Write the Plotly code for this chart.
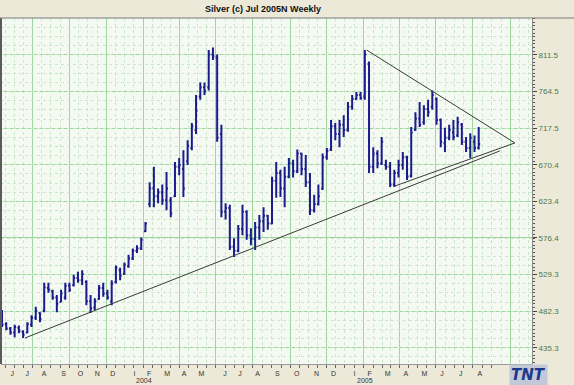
import pandas as pd
import plotly.graph_objects as go

# ---------------- data ----------------
week_dates = pd.date_range("2003-05-27", periods=114, freq="7D")

open_px = [480, 466, 460, 455, 461, 456, 455, 465, 474, 480,
           483, 512, 508, 500, 494, 500, 515, 516, 525, 522,
           520, 495, 487, 498, 512, 505, 495, 520, 535, 530,
           540, 550, 560, 563, 585, 620, 640, 630, 635, 625,
           625, 630, 668, 665, 675, 692, 715, 758, 770, 770,
           812, 808, 710, 610, 615, 565, 560, 588, 610, 580,
           575, 590, 598, 605, 595, 650, 660, 640, 655, 672,
           662, 685, 665, 648, 612, 620, 640, 680, 690, 720,
           710, 722, 715, 745, 755, 760, 758, 800, 668, 685,
           672, 670, 668, 645, 660, 670, 680, 656, 715, 730,
           725, 742, 745, 755, 728, 698, 705, 712, 708, 722,
           700, 692, 700, 692]
high_px = [484, 468, 462, 465, 464, 458, 468, 477, 488, 481,
           519, 519, 510, 503, 510, 519, 519, 529, 533, 535,
           522, 503, 499, 516, 519, 510, 522, 541, 538, 545,
           555, 563, 567, 577, 597, 648, 668, 640, 645, 661,
           629, 674, 679, 689, 702, 724, 760, 776, 776, 818,
           821, 812, 722, 621, 619, 576, 593, 619, 612, 589,
           597, 606, 616, 606, 655, 674, 664, 668, 679, 677,
           690, 686, 683, 660, 632, 645, 685, 692, 728, 724,
           728, 734, 751, 760, 764, 764, 818, 803, 693, 689,
           706, 677, 674, 664, 677, 687, 682, 719, 738, 751,
           747, 754, 766, 757, 730, 718, 722, 728, 732, 724,
           706, 711, 708, 719]
low_px = [462, 458, 452, 449, 454, 448, 454, 462, 471, 468,
          481, 506, 497, 481, 494, 497, 507, 514, 519, 516,
          490, 480, 484, 497, 501, 497, 490, 518, 522, 529,
          538, 548, 557, 561, 584, 616, 616, 621, 619, 612,
          603, 629, 657, 629, 670, 689, 710, 754, 760, 766,
          805, 700, 603, 600, 561, 552, 558, 580, 574, 567,
          561, 574, 584, 587, 594, 628, 629, 616, 653, 654,
          660, 657, 642, 606, 609, 618, 638, 677, 688, 702,
          693, 706, 713, 741, 754, 754, 754, 660, 660, 666,
          670, 664, 642, 642, 654, 664, 651, 654, 714, 719,
          722, 732, 741, 722, 693, 687, 702, 702, 706, 696,
          687, 679, 687, 690]
close_px = [465, 460, 455, 462, 457, 452, 466, 474, 483, 472,
            513, 510, 500, 492, 505, 515, 510, 525, 522, 530,
            495, 486, 495, 512, 505, 500, 518, 538, 528, 542,
            550, 560, 563, 574, 595, 640, 630, 635, 625, 640,
            608, 668, 670, 640, 695, 720, 740, 770, 765, 812,
            810, 705, 610, 615, 565, 560, 588, 610, 580, 575,
            590, 598, 605, 595, 650, 660, 640, 655, 672, 662,
            685, 665, 648, 612, 620, 630, 680, 688, 720, 710,
            722, 715, 745, 755, 760, 756, 812, 668, 685, 672,
            700, 668, 645, 660, 670, 680, 655, 712, 730, 722,
            742, 738, 760, 728, 700, 705, 715, 706, 725, 700,
            692, 705, 692, 697]

price_ticks = [435.3, 482.3, 529.3, 576.4, 623.4, 670.4, 717.5, 764.5, 811.5]
price_labels = ["435.3", "482.3", "529.3", "576.4", "623.4", "670.4", "717.5", "764.5", "811.5"]

month_label_dates = ["2003-06-13", "2003-07-08", "2003-08-05", "2003-09-06", "2003-10-04",
                     "2003-11-01", "2003-11-27", "2004-01-02", "2004-01-26", "2004-02-25",
                     "2004-03-24", "2004-04-22", "2004-05-31", "2004-06-25", "2004-07-24",
                     "2004-08-26", "2004-09-27", "2004-10-30", "2004-11-27", "2005-01-01",
                     "2005-01-26", "2005-02-25", "2005-03-27", "2005-04-27", "2005-05-26",
                     "2005-06-26", "2005-07-28"]
month_letters = ["J", "J", "A", "S", "O", "N", "D",
                 "I", "F", "M", "A", "M", "J", "J", "A", "S", "O", "N", "D",
                 "I", "F", "M", "A", "M", "J", "J", "A"]
year_labels = ["2004", "2005"]
year_dates = ["2004-01-01", "2005-01-01"]

trend_long_x = ["2003-07-04", "2005-08-30"]
trend_long_y = [447.9, 688.2]
trend_upper_x = ["2005-01-21", "2005-09-24"]
trend_upper_y = [817.9, 698.5]
trend_short_x = ["2005-03-09", "2005-09-24"]
trend_short_y = [643.2, 698.5]

title_text = "Silver (c) Jul 2005N Weekly"

# ---------------- styling helpers ----------------
x_range = ["2003-05-25 08:00", "2005-10-22 10:00"]
y_range = [414.5, 859.0]

grid_major = [pd.Timestamp(year=d.year, month=d.month, day=16)
              for d in pd.date_range("2003-07-01", "2005-09-01", freq="2MS")]
all_half = []
for d in pd.date_range("2003-05-01", "2005-10-01", freq="MS"):
    all_half.append(pd.Timestamp(year=d.year, month=d.month, day=1))
    all_half.append(pd.Timestamp(year=d.year, month=d.month, day=16))
grid_minor = [d for d in all_half if d not in grid_major]
bottom_ticks = [d for d in all_half if d <= pd.Timestamp("2005-08-16")]

step = (811.5 - 435.3) / 8
hgrid_minor = []
v = 435.3 - 2 * step
while v < 860:
    hgrid_minor.append(round(v, 3))
    v += step / 4

bar_color = "#1b1b8e"
font_main = "Liberation Sans, Arial, sans-serif"

fig = go.Figure()

# invisible trace to carry the grid axes
fig.add_trace(go.Scatter(x=[], y=[], xaxis="x2", yaxis="y2", showlegend=False, hoverinfo="skip"))

fig.add_trace(go.Ohlc(
    x=week_dates, open=open_px, high=high_px, low=low_px, close=close_px,
    increasing=dict(line=dict(color=bar_color, width=2)),
    decreasing=dict(line=dict(color=bar_color, width=2)),
    tickwidth=0.35, showlegend=False,
))

for tx, ty in [(trend_long_x, trend_long_y), (trend_upper_x, trend_upper_y), (trend_short_x, trend_short_y)]:
    fig.add_trace(go.Scatter(x=tx, y=ty, mode="lines",
                             line=dict(color="#3a3a3a", width=1), showlegend=False, hoverinfo="skip"))

fig.update_layout(
    width=574, height=385,
    margin=dict(l=1, r=42, t=18, b=21),
    paper_bgcolor="#ece9d8",
    plot_bgcolor="#f4faf2",
    font=dict(family=font_main, size=8, color="#222"),
    xaxis=dict(
        type="date", range=x_range, rangeslider=dict(visible=False),
        tickmode="array", tickvals=month_label_dates, ticktext=month_letters,
        ticks="", ticklabelstandoff=3,
        tickfont=dict(size=7, color="#333"),
        minor=dict(tickmode="array", tickvals=bottom_ticks, ticks="outside",
                   ticklen=3, tickcolor="#666", showgrid=False),
        showgrid=False, showline=True, linecolor="#9a9a9a", linewidth=1,
        zeroline=False, fixedrange=True,
    ),
    xaxis2=dict(
        type="date", range=x_range, overlaying="x", anchor="y",
        tickmode="array", tickvals=grid_major, showticklabels=False, ticks="",
        showgrid=True, gridcolor="#9fd6a0", gridwidth=1,
        minor=dict(tickmode="array", tickvals=grid_minor, showgrid=True,
                   gridcolor="#c9e8c9", griddash="dot", gridwidth=1, ticks=""),
        zeroline=False, showline=False,
    ),
    yaxis=dict(
        range=y_range, side="right",
        tickmode="array", tickvals=price_ticks, ticktext=price_labels,
        ticks="outside", ticklen=4, tickcolor="#444",
        tickfont=dict(size=8, color="#4a7a52"),
        showgrid=True, gridcolor="#9fd6a0", gridwidth=1,
        minor=dict(dtick=step / 10, tick0=435.3, ticks="outside", ticklen=2,
                   tickcolor="#555", showgrid=False),
        showline=True, linecolor="#8a8a8a", linewidth=1, zeroline=False,
    ),
    yaxis2=dict(
        range=y_range, overlaying="y", anchor="x", side="right",
        tickmode="array", tickvals=hgrid_minor, showticklabels=False, ticks="",
        showgrid=True, gridcolor="#c9e8c9", griddash="dot", gridwidth=1,
        zeroline=False, showline=False,
    ),
)

# title
fig.add_annotation(text="<b>" + title_text + "</b>", xref="paper", yref="paper",
                   x=(263 - 1) / 531, y=1, yshift=9, xanchor="center", yanchor="middle",
                   showarrow=False, font=dict(family=font_main, size=9, color="#111"))

# year labels under January
for yd, yl in zip(year_dates, year_labels):
    fig.add_annotation(text=yl, x=yd, xref="x", yref="paper", y=0, yshift=-16,
                       xanchor="left", yanchor="middle", showarrow=False,
                       font=dict(family=font_main, size=7, color="#333"))

# separators / borders
fig.add_shape(type="line", xref="paper", yref="paper", x0=0, x1=0, y0=0, y1=1,
              line=dict(color="#5a5a5a", width=2))
fig.add_shape(type="line", xref="paper", yref="paper", x0=-0.01, x1=1.08, y0=1, y1=1,
              line=dict(color="#7a7a7a", width=1))

# TNT logo
fig.add_annotation(text="<b><i>TNT</i></b>", xref="paper", yref="paper",
                   x=(528 - 1) / 531, y=0, yshift=-11, xanchor="center", yanchor="middle",
                   showarrow=False, bgcolor="#c3c8d8", borderpad=1,
                   font=dict(family="DejaVu Sans, sans-serif", size=15, color="#1d3a8a"))

fig.write_html("out.html", config={"displayModeBar": False},
               post_script="document.body.style.margin='0px';document.body.style.padding='0px';")
